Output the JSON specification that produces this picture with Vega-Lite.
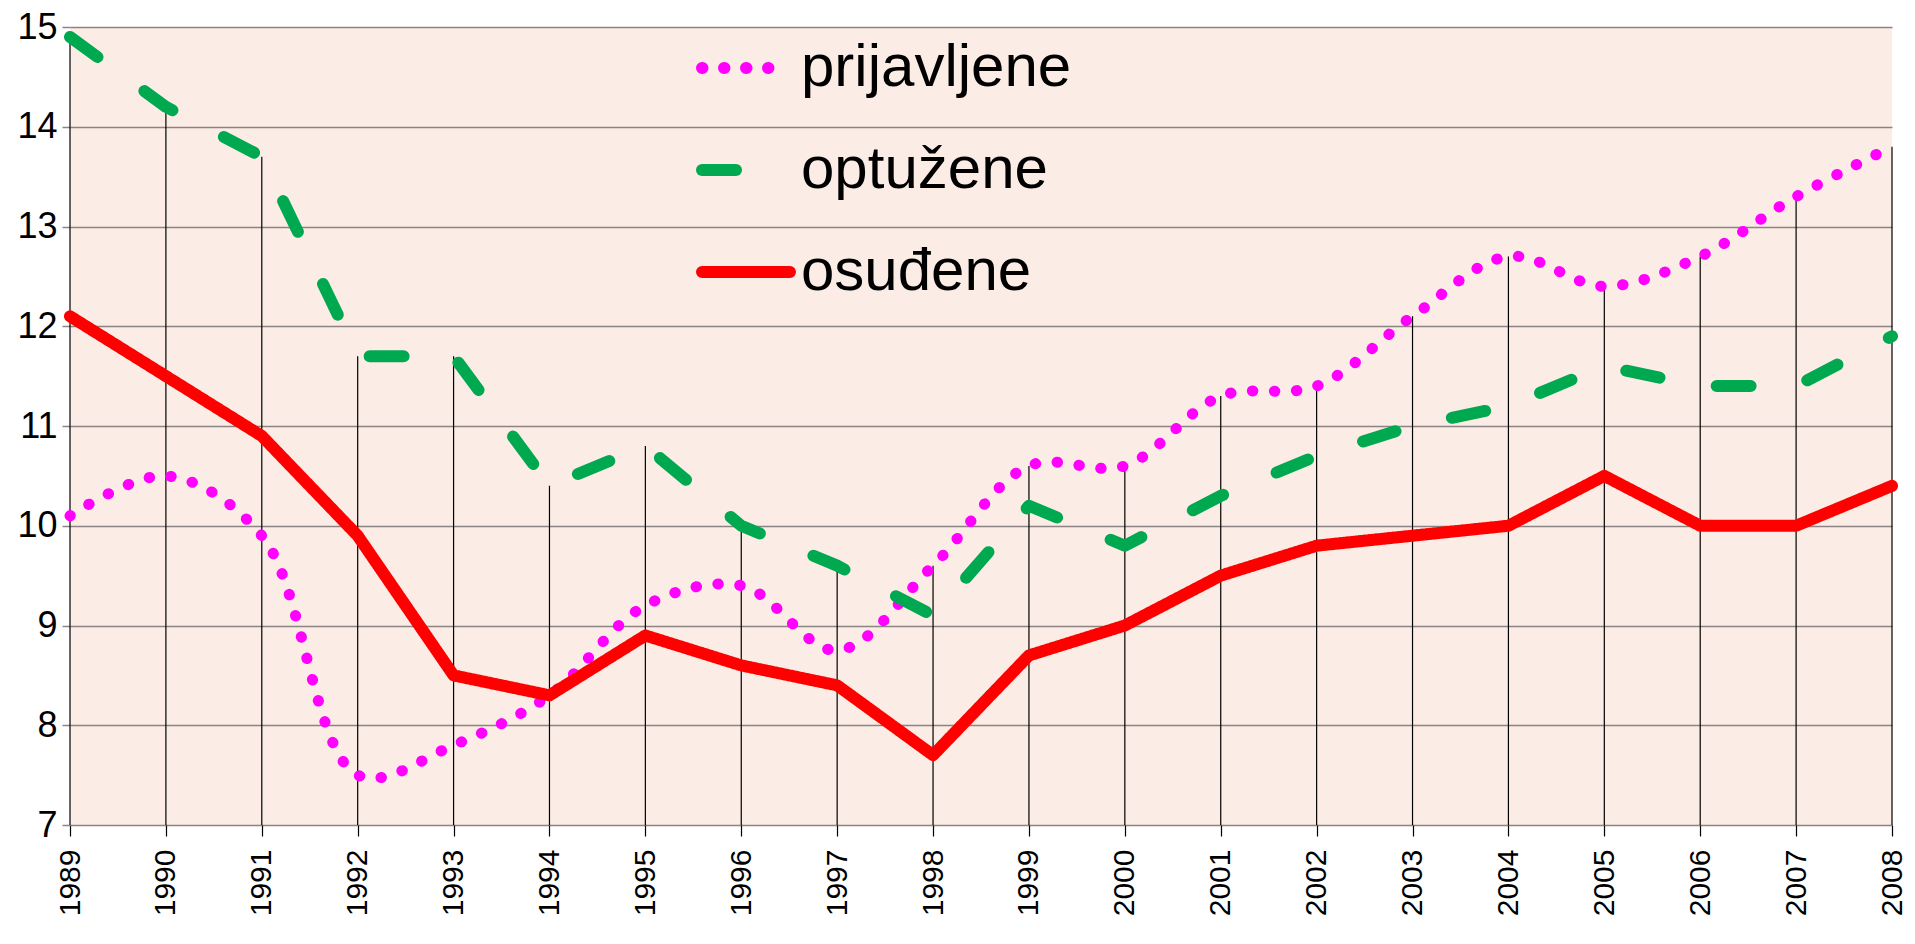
{
  "$schema": "https://vega.github.io/schema/vega-lite/v6.json",
  "autosize": "none",
  "width": 1822,
  "height": 798,
  "padding": {"left": 70, "top": 27, "right": 23, "bottom": 119},
  "background": "white",
  "config": {
    "view": {"fill": "#fbede6", "stroke": null},
    "font": "Liberation Sans"
  },
  "data": {
    "values": [
      {"year": 1989, "series": "prijavljene", "value": 10.1},
      {"year": 1990, "series": "prijavljene", "value": 10.5},
      {"year": 1991, "series": "prijavljene", "value": 9.9},
      {"year": 1992, "series": "prijavljene", "value": 7.5},
      {"year": 1993, "series": "prijavljene", "value": 7.8},
      {"year": 1994, "series": "prijavljene", "value": 8.3},
      {"year": 1995, "series": "prijavljene", "value": 9.2},
      {"year": 1996, "series": "prijavljene", "value": 9.4},
      {"year": 1997, "series": "prijavljene", "value": 8.75},
      {"year": 1998, "series": "prijavljene", "value": 9.6},
      {"year": 1999, "series": "prijavljene", "value": 10.6},
      {"year": 2000, "series": "prijavljene", "value": 10.6},
      {"year": 2001, "series": "prijavljene", "value": 11.3},
      {"year": 2002, "series": "prijavljene", "value": 11.4},
      {"year": 2003, "series": "prijavljene", "value": 12.1},
      {"year": 2004, "series": "prijavljene", "value": 12.7},
      {"year": 2005, "series": "prijavljene", "value": 12.4},
      {"year": 2006, "series": "prijavljene", "value": 12.7},
      {"year": 2007, "series": "prijavljene", "value": 13.3},
      {"year": 2008, "series": "prijavljene", "value": 13.8},
      {"year": 1989, "series": "optužene", "value": 14.9},
      {"year": 1990, "series": "optužene", "value": 14.2},
      {"year": 1991, "series": "optužene", "value": 13.7},
      {"year": 1992, "series": "optužene", "value": 11.7},
      {"year": 1993, "series": "optužene", "value": 11.7},
      {"year": 1994, "series": "optužene", "value": 10.4},
      {"year": 1995, "series": "optužene", "value": 10.8},
      {"year": 1996, "series": "optužene", "value": 10.0},
      {"year": 1997, "series": "optužene", "value": 9.6},
      {"year": 1998, "series": "optužene", "value": 9.1},
      {"year": 1999, "series": "optužene", "value": 10.2},
      {"year": 2000, "series": "optužene", "value": 9.8},
      {"year": 2001, "series": "optužene", "value": 10.3},
      {"year": 2002, "series": "optužene", "value": 10.7},
      {"year": 2003, "series": "optužene", "value": 11.0},
      {"year": 2004, "series": "optužene", "value": 11.2},
      {"year": 2005, "series": "optužene", "value": 11.6},
      {"year": 2006, "series": "optužene", "value": 11.4},
      {"year": 2007, "series": "optužene", "value": 11.4},
      {"year": 2008, "series": "optužene", "value": 11.9},
      {"year": 1989, "series": "osuđene", "value": 12.1},
      {"year": 1990, "series": "osuđene", "value": 11.5},
      {"year": 1991, "series": "osuđene", "value": 10.9},
      {"year": 1992, "series": "osuđene", "value": 9.9},
      {"year": 1993, "series": "osuđene", "value": 8.5},
      {"year": 1994, "series": "osuđene", "value": 8.3},
      {"year": 1995, "series": "osuđene", "value": 8.9},
      {"year": 1996, "series": "osuđene", "value": 8.6},
      {"year": 1997, "series": "osuđene", "value": 8.4},
      {"year": 1998, "series": "osuđene", "value": 7.7},
      {"year": 1999, "series": "osuđene", "value": 8.7},
      {"year": 2000, "series": "osuđene", "value": 9.0},
      {"year": 2001, "series": "osuđene", "value": 9.5},
      {"year": 2002, "series": "osuđene", "value": 9.8},
      {"year": 2003, "series": "osuđene", "value": 9.9},
      {"year": 2004, "series": "osuđene", "value": 10.0},
      {"year": 2005, "series": "osuđene", "value": 10.5},
      {"year": 2006, "series": "osuđene", "value": 10.0},
      {"year": 2007, "series": "osuđene", "value": 10.0},
      {"year": 2008, "series": "osuđene", "value": 10.4}
    ]
  },
  "encoding": {
    "x": {
      "field": "year",
      "type": "quantitative",
      "scale": {"domain": [1989, 2008], "nice": false, "zero": false},
      "axis": {
        "title": null,
        "values": [1989,1990,1991,1992,1993,1994,1995,1996,1997,1998,1999,2000,2001,2002,2003,2004,2005,2006,2007,2008],
        "format": "d",
        "labelAngle": 270,
        "labelFontSize": 30,
        "labelColor": "black",
        "labelPadding": 13,
        "tickSize": 11,
        "tickColor": "black",
        "tickWidth": 1.2,
        "domain": false,
        "grid": false,
        "labelFlush": false,
        "labelOverlap": false
      }
    }
  },
  "layer": [
    {
      "mark": {"type": "rule", "color": "black", "strokeWidth": 1.2},
      "encoding": {
        "y": {
          "aggregate": "max",
          "field": "value",
          "type": "quantitative",
          "scale": {"domain": [7, 15], "nice": false, "zero": false},
          "axis": {
            "title": null,
            "values": [7, 8, 9, 10, 11, 12, 13, 14, 15],
            "format": "d",
            "labelFontSize": 36,
            "labelColor": "black",
            "labelPadding": 5,
            "tickSize": 8,
            "tickColor": "#8c8484",
            "tickWidth": 1.5,
            "gridColor": "#8c8484",
            "gridWidth": 1.5,
            "domain": false
          }
        },
        "y2": {"datum": 7}
      }
    },
    {
      "transform": [{"filter": "datum.series === 'prijavljene'"}],
      "mark": {"type": "line", "interpolate": "catmull-rom", "strokeWidth": 11, "strokeCap": "round"},
      "encoding": {
        "y": {"field": "value", "type": "quantitative"},
        "color": {
          "field": "series",
          "type": "nominal",
          "scale": {"domain": ["prijavljene", "optužene", "osuđene"], "range": ["#ff00ff", "#00a84f", "#ff0000"]},
          "legend": {
            "title": null,
            "orient": "none",
            "legendX": 626,
            "legendY": -9,
            "padding": 0,
            "symbolType": "stroke",
            "symbolSize": 7744,
            "symbolStrokeWidth": 12,
            "labelFontSize": 60,
            "labelFont": "Liberation Sans",
            "labelColor": "black",
            "labelLimit": 0,
            "labelOffset": 5,
            "rowPadding": 22,
            "encode": {"symbols": {"update": {"strokeCap": {"value": "round"}}}}
          }
        },
        "strokeDash": {
          "field": "series",
          "type": "nominal",
          "scale": {"domain": ["prijavljene", "optužene", "osuđene"], "range": [[0.5, 21.5], [34, 58], [1, 0]]}
        }
      }
    },
    {
      "transform": [{"filter": "datum.series !== 'prijavljene'"}],
      "mark": {"type": "line", "strokeWidth": 12, "strokeCap": "round", "strokeJoin": "round"},
      "encoding": {
        "y": {"field": "value", "type": "quantitative"},
        "color": {"field": "series", "type": "nominal"},
        "strokeDash": {"field": "series", "type": "nominal"}
      }
    }
  ]
}
